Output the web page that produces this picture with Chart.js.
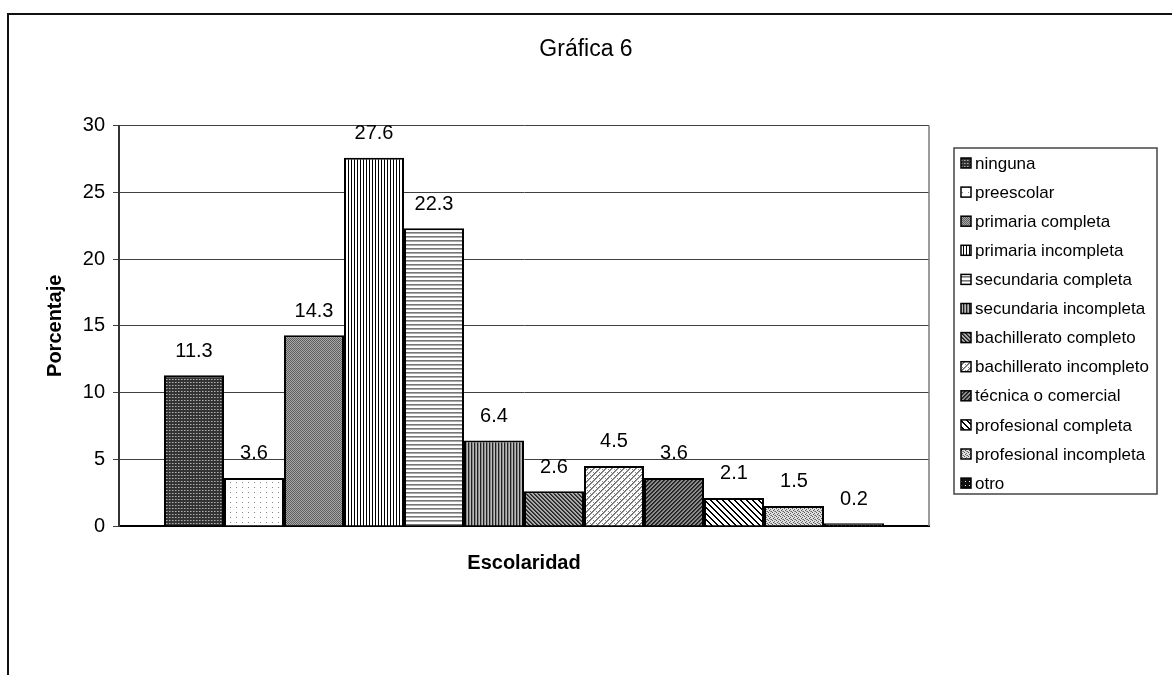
<!DOCTYPE html>
<html>
<head>
<meta charset="utf-8">
<script src="https://cdn.jsdelivr.net/npm/chart.js@4.4.1/dist/chart.umd.min.js"></script>
<style>
  html, body { margin: 0; padding: 0; background: #fff; }
  #wrap { position: relative; width: 1172px; height: 675px; overflow: hidden; }
  #frame { position: absolute; left: 7px; top: 13px; width: 1200px; height: 700px;
           border-top: 2px solid #111; border-left: 2px solid #111; pointer-events: none; }
  canvas { position: absolute; left: 0; top: 0; }
</style>
</head>
<body>
<div id="wrap">
  <canvas id="chart" width="1172" height="675"></canvas>
  <div id="frame"></div>
</div>
<script>
// ---- DATA ----
const categorias = ['ninguna', 'preescolar', 'primaria completa', 'primaria incompleta',
  'secundaria completa', 'secundaria incompleta', 'bachillerato completo',
  'bachillerato incompleto', 'técnica o comercial', 'profesional completa',
  'profesional incompleta', 'otro'];
const valores = [11.3, 3.6, 14.3, 27.6, 22.3, 6.4, 2.6, 4.5, 3.6, 2.1, 1.5, 0.2];
const yMin = 0, yMax = 30, yStep = 5;

const font = "'Liberation Sans', Arial, sans-serif";
Chart.defaults.font.family = font;
Chart.defaults.color = '#000';

// ---- FILL PATTERNS (Excel style hatch) ----
const canvas = document.getElementById('chart');
const ctx = canvas.getContext('2d');

function tile(w, h, bg, draw) {
  const c = document.createElement('canvas');
  c.width = w; c.height = h;
  const g = c.getContext('2d');
  g.fillStyle = bg; g.fillRect(0, 0, w, h);
  draw(g, (x, y, col) => { g.fillStyle = col; g.fillRect(x, y, 1, 1); });
  return ctx.createPattern(c, 'repeat');
}

const patterns = [
  // ninguna
  tile(3, 3, '#333', (g, p) => { p(1, 1, '#b0b0b0'); p(2, 1, '#777'); }),
  // preescolar
  tile(6, 5, '#fff', (g, p) => { p(2, 2, '#888'); }),
  // primaria completa
  tile(2, 2, '#5e5e5e', (g, p) => { p(1, 0, '#a8a8a8'); p(0, 1, '#a8a8a8'); }),
  // primaria incompleta
  tile(3, 1, '#fff', (g, p) => { p(0, 0, '#000'); }),
  // secundaria completa
  tile(1, 4, '#fff', (g, p) => { p(0, 0, '#777'); p(0, 1, '#aaa'); }),
  // secundaria incompleta
  tile(3, 1, '#bbb', (g, p) => { p(0, 0, '#222'); p(1, 0, '#888'); }),
  // bachillerato completo
  tile(4, 4, '#aaa', (g, p) => { for (let i = 0; i < 4; i++) { p(i, i, '#222'); p((i + 1) % 4, i, '#444'); } }),
  // bachillerato incompleto
  tile(6, 6, '#fff', (g, p) => { for (let i = 0; i < 6; i++) { p(5 - i, i, '#666'); p((6 - i) % 6, i, '#999'); } p(2, 1, '#888'); p(5, 4, '#888'); }),
  // técnica o comercial
  tile(4, 4, '#8c8c8c', (g, p) => { for (let i = 0; i < 4; i++) { p(3 - i, i, '#1e1e1e'); p((4 - i) % 4, i, '#333'); } }),
  // profesional completa
  tile(6, 6, '#fff', (g, p) => { for (let i = 0; i < 6; i++) { p(i, i, '#000'); p((i + 1) % 6, i, '#000'); } }),
  // profesional incompleta
  tile(4, 4, '#dedede', (g, p) => { p(0, 0, '#555'); p(2, 1, '#666'); p(1, 2, '#555'); p(3, 3, '#666'); p(2, 3, '#999'); }),
  // otro
  tile(4, 4, '#111', (g, p) => { p(1, 1, '#eee'); })
];

// ---- PLUGINS ----
const plotBorder = {
  id: 'plotBorder',
  beforeDatasetsDraw(chart) {
    const { ctx, chartArea: a } = chart;
    ctx.save();
    ctx.strokeStyle = '#7a7a7a';
    ctx.lineWidth = 1.5;
    ctx.beginPath();
    ctx.moveTo(a.right, a.top);
    ctx.lineTo(a.right, a.bottom);
    ctx.stroke();
    ctx.restore();
  }
};

const valueLabels = {
  id: 'valueLabels',
  afterDatasetsDraw(chart) {
    const { ctx } = chart;
    ctx.save();
    ctx.font = '20px ' + font;
    ctx.fillStyle = '#000';
    ctx.textAlign = 'center';
    ctx.textBaseline = 'middle';
    chart.data.datasets.forEach((ds, i) => {
      const el = chart.getDatasetMeta(i).data[0];
      ctx.fillText(String(ds.data[0]), el.x, el.y - 24);
    });
    ctx.restore();
  }
};

const boxLegend = {
  id: 'boxLegend',
  afterDraw(chart) {
    const { ctx } = chart;
    const x0 = 954, y0 = 148, w = 203, h = 346, row = 29.1, first = 163;
    ctx.save();
    ctx.strokeStyle = '#444';
    ctx.lineWidth = 1.5;
    ctx.strokeRect(x0, y0, w, h);
    ctx.font = '17px ' + font;
    ctx.textBaseline = 'middle';
    ctx.textAlign = 'left';
    chart.data.datasets.forEach((ds, i) => {
      const y = first + i * row;
      ctx.fillStyle = ds.backgroundColor;
      ctx.fillRect(961, y - 5, 10, 10);
      ctx.strokeStyle = '#000';
      ctx.lineWidth = 1.5;
      ctx.strokeRect(961, y - 5, 10, 10);
      ctx.fillStyle = '#000';
      ctx.fillText(ds.label, 975, y + 1);
    });
    ctx.restore();
  }
};

// ---- CHART ----
new Chart(canvas, {
  type: 'bar',
  data: {
    labels: [''],
    datasets: categorias.map((c, i) => ({
      label: c,
      data: [valores[i]],
      backgroundColor: patterns[i],
      borderColor: '#000',
      borderWidth: 2,
      categoryPercentage: 720 / 810,
      barPercentage: 1.0
    }))
  },
  options: {
    responsive: false,
    animation: false,
    devicePixelRatio: 1,
    layout: { padding: 0 },
    plugins: {
      legend: { display: false },
      tooltip: { enabled: false },
      title: {
        display: true,
        text: 'Gráfica 6',
        color: '#000',
        font: { size: 23, weight: 'normal' },
        padding: { top: 36, bottom: 62 }
      }
    },
    scales: {
      x: {
        grid: { display: false },
        border: { display: true, color: '#000', width: 2 },
        ticks: { display: false },
        title: {
          display: true,
          text: 'Escolaridad',
          color: '#000',
          font: { size: 20, weight: 'bold' },
          padding: { top: 0, bottom: 100 }
        },
        afterFit: s => { s.height = 149; }
      },
      y: {
        position: 'left',
        min: yMin,
        max: yMax,
        ticks: { stepSize: yStep, font: { size: 20 }, color: '#000', padding: 8 },
        grid: { color: '#404040', lineWidth: 1, tickLength: 6, drawTicks: true },
        border: { display: true, color: '#333', width: 2 },
        title: {
          display: true,
          text: 'Porcentaje',
          color: '#000',
          font: { size: 20, weight: 'bold' },
          padding: { top: 43, bottom: 0 }
        },
        afterFit: s => { s.width = 119; }
      },
      y2: {
        type: 'linear',
        position: 'right',
        grid: { display: false },
        border: { display: false },
        ticks: { display: false },
        afterFit: s => { s.width = 243; }
      }
    }
  },
  plugins: [plotBorder, valueLabels, boxLegend]
});
</script>
</body>
</html>
